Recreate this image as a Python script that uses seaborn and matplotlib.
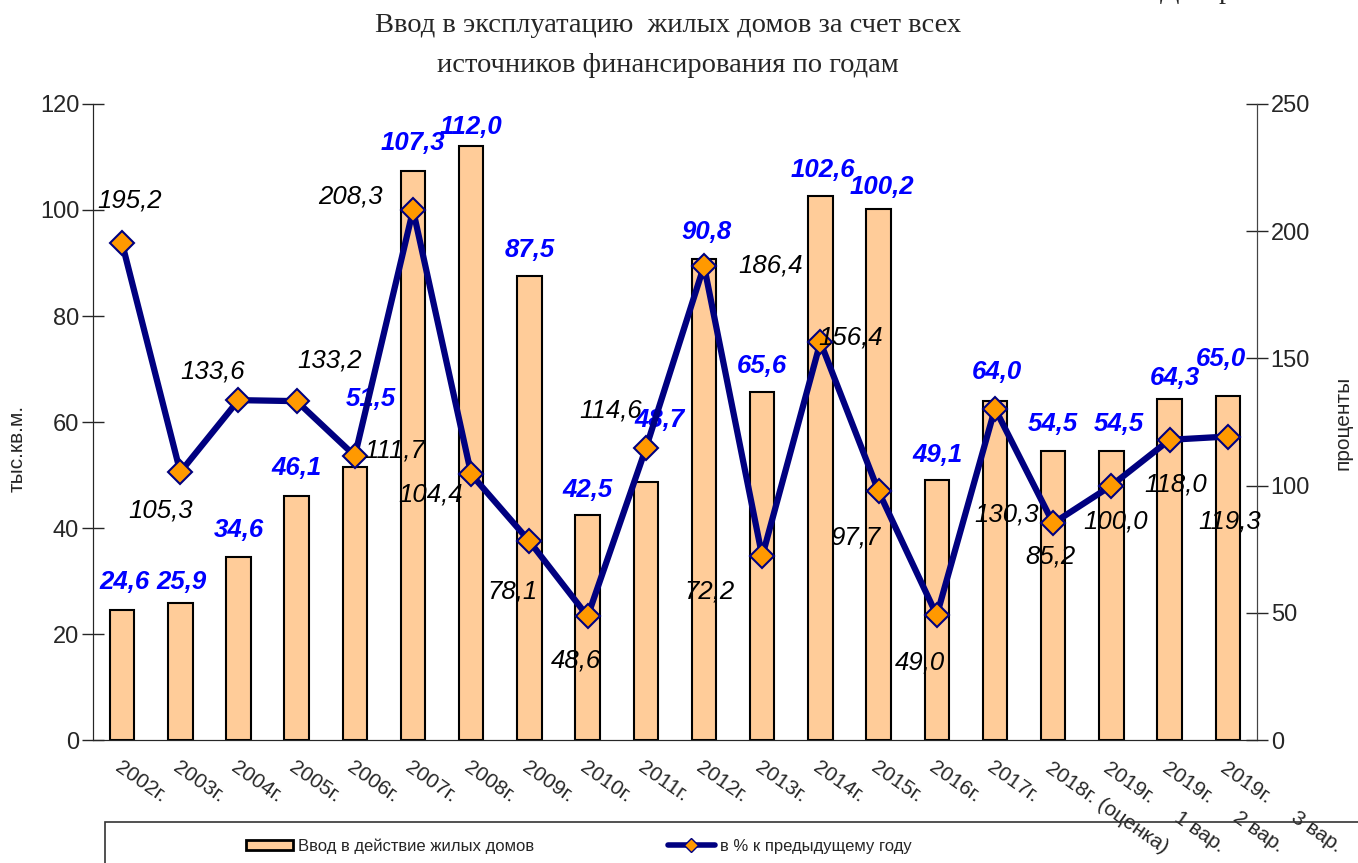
import numpy as np
import pandas as pd
import seaborn as sns
import matplotlib.pyplot as plt
from matplotlib.lines import Line2D
from matplotlib.patches import Patch, Rectangle

# data
years = ["2002г.", "2003г.", "2004г.", "2005г.", "2006г.", "2007г.", "2008г.",
         "2009г.", "2010г.", "2011г.", "2012г.", "2013г.", "2014г.", "2015г.",
         "2016г.", "2017г.", "2018г. (оценка)", "2019г.     1 вар.",
         "2019г.     2 вар.", "2019г.     3 вар."]
area = [24.6, 25.9, 34.6, 46.1, 51.5, 107.3, 112.0, 87.5, 42.5, 48.7,
        90.8, 65.6, 102.6, 100.2, 49.1, 64.0, 54.5, 54.5, 64.3, 65.0]
pct = [195.2, 105.3, 133.6, 133.2, 111.7, 208.3, 104.4, 78.1, 48.6, 114.6,
       186.4, 72.2, 156.4, 97.7, 49.0, 130.3, 85.2, 100.0, 118.0, 119.3]

# label offsets in pixels (dx, dy downward)
bar_off = [(2, -28), (1, -21), (0, -27), (0, -28), (16, -68), (0, -28), (0, -19),
           (0, -26), (0, -25), (14, -62), (2, -27), (0, -26), (2, -26), (3, -22),
           (1, -25), (2, -29), (0, -27), (8, -27), (5, -21), (-7, -37)]
line_off = [(8, -43), (-20, 38), (-26, -29), (33, -41), (40, -5), (-63, -14),
            (-41, 20), (-17, 50), (-12, 44), (-35, -38), (67, 0), (-53, 35),
            (30, -5), (-23, 46), (-17, 47), (12, 106), (-3, 33), (4, 36),
            (6, 45), (2, 85)]

df = pd.DataFrame({"year": years, "area": area, "pct": pct})
df["pos"] = np.arange(len(df))

sns.set_style("white")
plt.rcParams["font.family"] = ["Liberation Sans", "DejaVu Sans"]
serif = ["Liberation Serif", "DejaVu Serif"]

fig = plt.figure(figsize=(13.58, 8.63), dpi=100)
ax = fig.add_axes([0.0685, 0.1425, 0.857, 0.737])

sns.barplot(data=df, x="year", y="area", color="#FFCC99", edgecolor="black",
            linewidth=1.5, width=0.42, saturation=1, ax=ax, zorder=2)
ax.set_xlim(-0.5, len(df) - 0.5)
ax.set_ylim(0, 120)
ax.set_yticks(range(0, 121, 20))
ax.tick_params(axis="y", direction="inout", length=16, labelsize=17, width=1, pad=2)
ax.set_ylabel("тыс.кв.м.", fontsize=15)
ax.yaxis.set_label_coords(-0.057, 0.459)
ax.set_xlabel("")
ax.set_xticks(np.arange(len(df)))
ax.set_xticks(np.arange(len(df)) + 0.5, minor=True)
ax.tick_params(axis="x", which="major", length=0, pad=13)
ax.tick_params(axis="x", which="minor", length=10, direction="inout", width=1)
ax.set_xticklabels(years, rotation=-35, ha="left", va="top",
                   rotation_mode="anchor", fontsize=15)
for s in ["left", "bottom", "right"]:
    ax.spines[s].set_color("#444444")
ax.spines["top"].set_visible(False)

ax2 = ax.twinx()
sns.lineplot(data=df, x="pos", y="pct", ax=ax2, color="#000080", linewidth=4.5,
             marker="D", markersize=12, markerfacecolor="#FF9900",
             markeredgecolor="#000080", markeredgewidth=1.5, zorder=3)
ax2.set_ylim(0, 250)
ax2.set_yticks(range(0, 251, 50))
ax2.tick_params(axis="y", direction="inout", length=16, labelsize=17, width=1, pad=2)
ax2.set_ylabel("проценты", fontsize=15)
ax2.yaxis.set_label_coords(1.066, 0.498)
ax2.set_xlabel("")
ax2.set_xlim(-0.5, len(df) - 0.5)
ax2.spines["top"].set_visible(False)
ax2.spines["right"].set_color("#444444")

for i, v in enumerate(area):
    dx, dy = bar_off[i]
    ax.annotate(f"{v:.1f}".replace(".", ","), xy=(i, v), xytext=(dx, -dy),
                textcoords="offset pixels", ha="center", va="center",
                fontsize=18.5, fontweight="bold", fontstyle="italic",
                color="#0000FF", zorder=5)
for i, v in enumerate(pct):
    dx, dy = line_off[i]
    ax2.annotate(f"{v:.1f}".replace(".", ","), xy=(i, v), xytext=(dx, -dy),
                 textcoords="offset pixels", ha="center", va="center",
                 fontsize=18.5, fontstyle="italic", color="black", zorder=5)

fig.text(668 / 1358, 1 - 26 / 863, "Ввод в эксплуатацию  жилых домов за счет всех",
         ha="center", va="center", fontsize=20.5, family=serif)
fig.text(668 / 1358, 1 - 65 / 863, "источников финансирования по годам",
         ha="center", va="center", fontsize=20.5, family=serif)
fig.text(1160 / 1358, 1 + 2 / 863, "Диаграмма 6", ha="left", va="baseline",
         fontsize=20.5, family=serif)

# legend box (runs past the figure edge, as in the reference)
fig.patches.append(Rectangle((105 / 1358, -0.05), 1.0, (863 - 822) / 863 + 0.05,
                             transform=fig.transFigure, fill=False,
                             edgecolor="#333333", linewidth=1.2))
handles = [Patch(facecolor="#FFCC99", edgecolor="black", linewidth=2),
           Line2D([0], [0], color="#000080", linewidth=4, marker="D",
                  markersize=7, markerfacecolor="#FF9900",
                  markeredgecolor="#000080")]
fig.legend(handles, ["Ввод в действие жилых домов", "в % к предыдущему году"],
           loc="center left", bbox_to_anchor=(231 / 1358, 1 - 846 / 863),
           ncol=2, frameon=False, fontsize=12, columnspacing=8.0,
           handlelength=2.8, handleheight=0.6, handletextpad=0.35)

fig.savefig("out.png", dpi=100)
